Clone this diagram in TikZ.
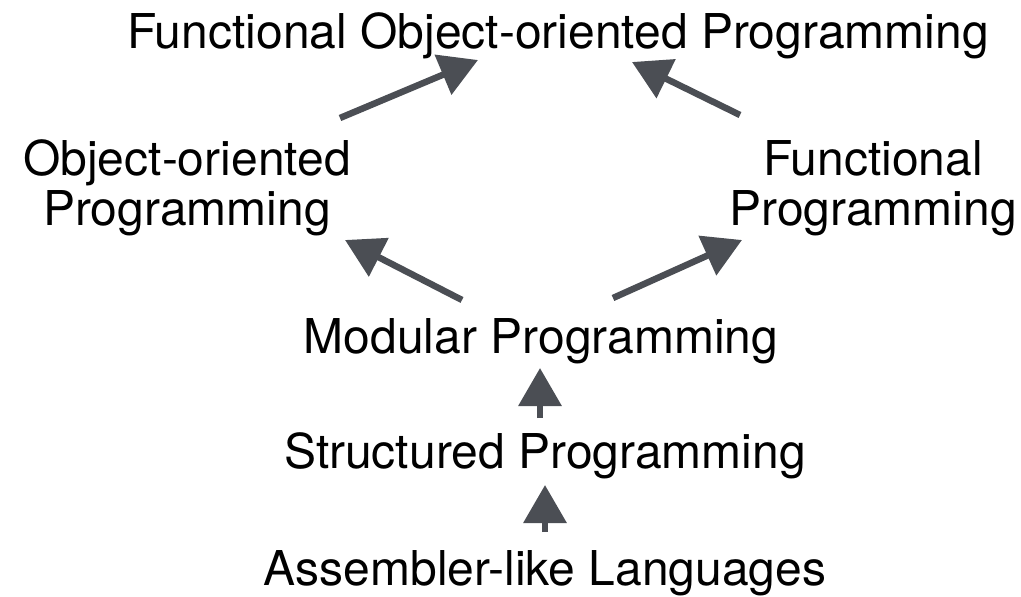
\documentclass[tikz,border=0pt]{standalone}
\usepackage{fontspec}
\setmainfont{TeX Gyre Heros}
\usetikzlibrary{arrows.meta}
\definecolor{pencil}{HTML}{4B4E54}
\begin{document}
\begin{tikzpicture}[x=1pt,y=-1pt]
\tikzstyle{label} = [inner sep=0pt, align=center, font=\fontsize{48}{50}\selectfont]
\tikzstyle{edge} = [draw=pencil, line width=6.5pt, -{Triangle[length=38pt,width=42pt]}]

\useasboundingbox (0,0) rectangle (1021,597);

\node[label, anchor=base] (FOP) at (558,48) {Functional Object-oriented Programming};
\node[label] (OOP) at (187,188) {Object-oriented\\Programming};
\node[label] (FP) at (873,188) {Functional\\Programming};
\node[label, anchor=base] (MP) at (541,353) {Modular Programming};
\node[label, anchor=base] (SP) at (545,468) {Structured Programming};
\node[label, anchor=base] (AL) at (545,585) {Assembler-like Languages};

\draw[edge] ([shift={(153,-70)}]OOP.center) -- ([shift={(-80,12)}]FOP.base);
\draw[edge] ([shift={(-133,-73)}]FP.center) -- ([shift={(74,14)}]FOP.base);
\draw[edge] ([shift={(-79,-53)}]MP.base) -- ([shift={(158,52)}]OOP.center);
\draw[edge] ([shift={(72,-55)}]MP.base) -- ([shift={(-131,52)}]FP.center);
\draw[edge] ([shift={(-5,-50)}]SP.base) -- ([shift={(-1,15)}]MP.base);
\draw[edge] ([shift={(0,-53)}]AL.base) -- ([shift={(0,17)}]SP.base);
\end{tikzpicture}
\end{document}
